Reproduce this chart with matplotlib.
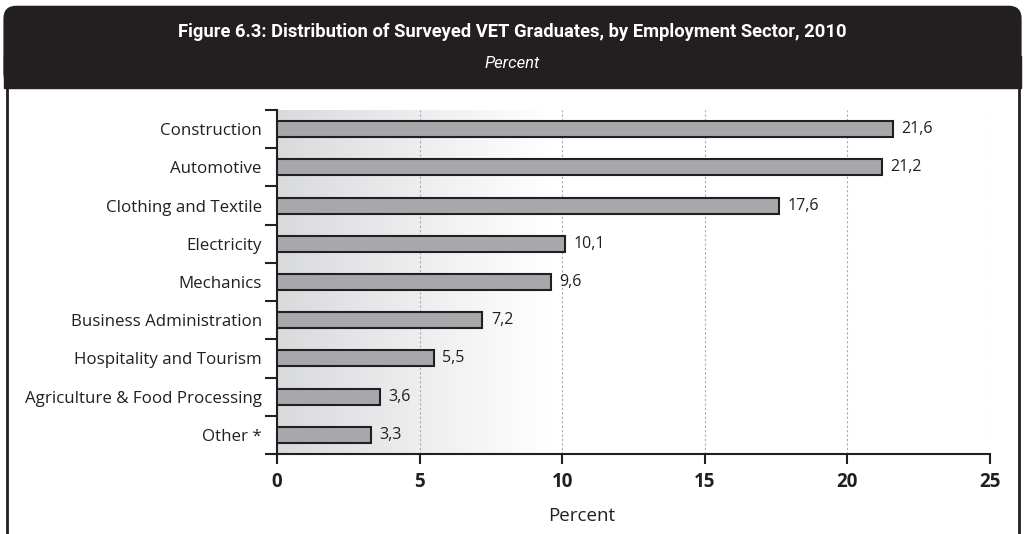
import numpy as np
import matplotlib.pyplot as plt
from matplotlib.patches import FancyBboxPatch, Rectangle
from matplotlib.lines import Line2D
from matplotlib.colors import LinearSegmentedColormap

# Datos
sectores = ["Construction", "Automotive", "Clothing and Textile", "Electricity",
            "Mechanics", "Business Administration", "Hospitality and Tourism",
            "Agriculture & Food Processing", "Other *"]
valores = [21.6, 21.2, 17.6, 10.1, 9.6, 7.2, 5.5, 3.6, 3.3]
xticks = [0, 5, 10, 15, 20, 25]

oscuro = "#231f20"
plt.rcParams['font.family'] = ['Open Sans', 'DejaVu Sans']

fig = plt.figure(figsize=(10.24, 5.34), dpi=100)

# Cabecera negra (esquinas redondeadas solo arriba)
cab = FancyBboxPatch((0.004, 0.84), 0.993, 0.148, boxstyle="round,pad=0,rounding_size=0.012",
                     transform=fig.transFigure, facecolor=oscuro, edgecolor=oscuro,
                     mutation_aspect=1.9)
fig.patches.append(cab)
fig.patches.append(Rectangle((0.004, 0.835), 0.993, 0.06, transform=fig.transFigure,
                             facecolor=oscuro, edgecolor=oscuro))
fig.add_artist(Line2D([0.0068, 0.0068], [0.0, 0.84], color=oscuro, lw=2))
fig.add_artist(Line2D([0.9955, 0.9955], [0.0, 0.84], color=oscuro, lw=2))
fig.text(0.5, 0.94, "Figure 6.3: Distribution of Surveyed VET Graduates, by Employment Sector, 2010",
         ha="center", va="center", color="white", fontsize=13.2, fontweight="bold",
         family=['Roboto', 'DejaVu Sans'])
fig.text(0.5, 0.882, "Percent", ha="center", va="center", color="white", fontsize=12,
         style="italic", family=['Roboto', 'DejaVu Sans'])

ax = fig.add_axes([0.2705, 0.1498, 0.6963, 0.6442])
y = np.arange(len(sectores))

# Fondo degradado
cmap = LinearSegmentedColormap.from_list("g", ["#d9dadc", "#ffffff"])
grad = np.linspace(0, 1, 256).reshape(1, -1)
ax.imshow(grad, cmap=cmap, aspect="auto", extent=[0, 9.5, 8.5, -0.5], zorder=0)

ax.barh(y, valores, height=0.42, color="#a7a8ab", edgecolor=oscuro, linewidth=1.5, zorder=3)
for yi, v in zip(y, valores):
    ax.text(v + 0.3, yi, f"{v:.1f}".replace(".", ","), va="center", ha="left",
            fontsize=11.5, color=oscuro)

ax.set_xlim(0, 25)
ax.set_ylim(8.5, -0.5)
ax.set_xticks(xticks)
ax.set_xticklabels([str(t) for t in xticks], fontweight="bold", fontsize=13.5, color=oscuro)
ax.set_yticks(np.arange(-0.5, 9, 1))
ax.set_yticklabels([])
ax.set_yticks(y, minor=True)
ax.set_yticklabels(sectores, minor=True, fontsize=12.2, color=oscuro)
ax.tick_params(axis="y", which="minor", length=0, pad=11)
ax.tick_params(axis="y", which="major", length=9, width=1.5, color=oscuro)
ax.tick_params(axis="x", length=7, width=1.5, color=oscuro, pad=6)
ax.xaxis.grid(True, linestyle=(0, (2, 2)), color="#aaaaaa", linewidth=0.8, zorder=1)
ax.set_axisbelow(True)
for s in ["top", "right"]:
    ax.spines[s].set_visible(False)
for s in ["left", "bottom"]:
    ax.spines[s].set_linewidth(1.5)
    ax.spines[s].set_color(oscuro)
ax.set_xlabel("Percent", fontsize=13.5, color=oscuro)
ax.xaxis.set_label_coords((582 - 277) / (990 - 277), -0.155)

plt.savefig("out.png", dpi=100)
